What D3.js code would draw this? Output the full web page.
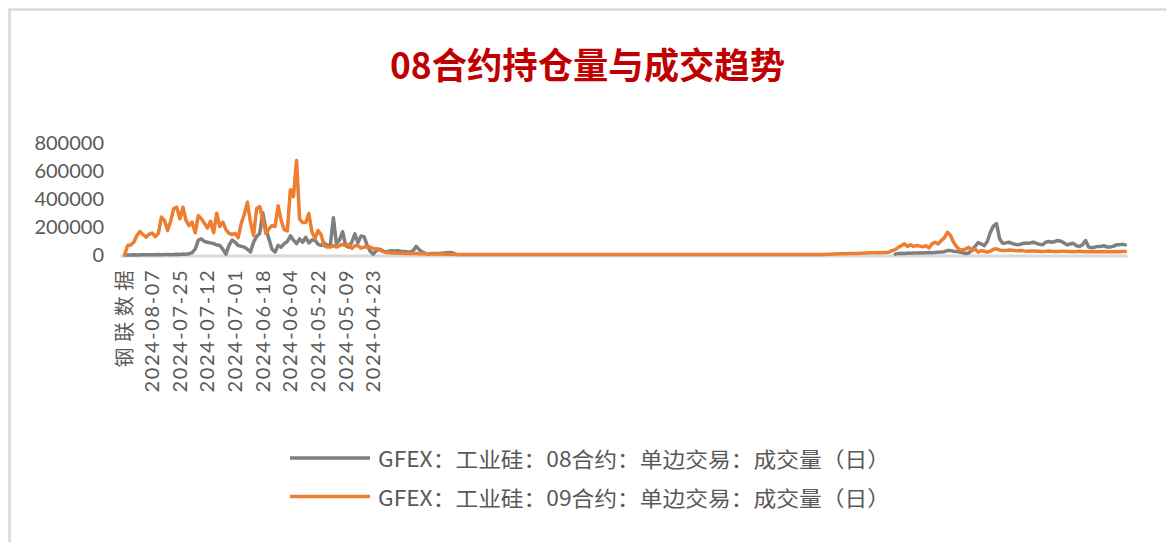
<!DOCTYPE html>
<html><head><meta charset="utf-8">
<script src="https://cdn.jsdelivr.net/npm/d3@7/dist/d3.min.js"></script>
<style>
html,body{margin:0;padding:0;background:#fff;}
svg{display:block;}
</style></head>
<body>
<script>
// ---- data ----
const title = "08合约持仓量与成交趋势";
const tickLabels = ["钢联数据","2024-08-07","2024-07-25","2024-07-12","2024-07-01","2024-06-18","2024-06-04","2024-05-22","2024-05-09","2024-04-23"];
const tickStep = 9;
const yTicks = [0,200000,400000,600000,800000];
const seriesNames = ["GFEX：工业硅：08合约：单边交易：成交量（日）","GFEX：工业硅：09合约：单边交易：成交量（日）"];
const seriesColors = ["#7f7f7f","#ed7d31"];

const gray08 = [null,
3000,4000,3000,5000,4000,5000,6000,5000,6000,5000,
6000,7000,6000,8000,7000,6000,8000,9000,8000,10000,9000,12000,
20000,45000,110000,119000,100000,95000,90000,85000,75000,72000,45000,10000,72000,110000,95000,72000,65000,60000,45000,25000,95000,135000,157000,305000,190000,119000,45000,25000,
72000,60000,85000,100000,140000,110000,85000,119000,95000,130000,
90000,110000,110000,80000,72000,90000,72000,72000,270000,85000,
110000,170000,72000,60000,95000,155000,90000,140000,135000,72000,
30000,10000,35000,45000,35000,25000,30000,35000,30000,35000,
30000,28000,26000,25000,35000,65000,40000,25000,15000,10000,
15000,14000,15000,16000,18000,20000,22000,18000,8000,
null,null,null,null,null,null,null,null,null,null,
null,null,null,null,null,null,null,null,null,null,
null,null,null,null,null,null,null,null,null,null,
null,null,null,null,null,null,null,null,null,null,
null,null,null,null,null,null,null,null,null,null,
null,null,null,null,null,null,null,null,null,null,
null,null,null,null,null,null,null,null,null,null,
null,null,null,null,null,null,null,null,null,null,
null,null,null,null,null,null,null,null,null,null,
null,null,null,null,null,null,null,null,null,null,
null,null,null,null,null,null,null,null,null,null,
null,null,null,null,null,null,null,null,null,null,
null,null,null,null,null,null,null,null,null,null,
null,null,null,null,null,null,null,null,null,null,
null,null,
10000,15000,16000,15000,17000,16000,18000,17000,19000,18000,
20000,21000,20000,22000,24000,25000,27000,35000,35000,30000,
28000,24000,20000,14000,18000,40000,64000,92000,83000,70000,
100000,166000,210000,228000,120000,87000,90000,95000,87000,80000,
76000,82000,87000,87000,90000,95000,87000,80000,76000,95000,
100000,95000,100000,107000,102000,90000,76000,82000,87000,70000,
65000,76000,107000,60000,55000,60000,65000,65000,70000,60000,
60000,65000,76000,76000,80000,76000];

const orange09 = [null,
5000,71000,75000,95000,143000,171000,150000,131000,152000,160000,
135000,160000,274000,250000,178000,245000,335000,345000,262000,345000,
250000,214000,238000,162000,285000,262000,230000,197000,245000,162000,
302000,207000,238000,185000,158000,150000,158000,127000,230000,295000,
381000,238000,143000,335000,350000,262000,158000,190000,214000,207000,
355000,250000,185000,175000,470000,420000,678000,260000,235000,235000,
300000,170000,121000,178000,150000,70000,60000,60000,70000,60000,
70000,80000,70000,80000,50000,70000,70000,52000,60000,62000,
60000,48000,48000,42000,30000,22000,19000,18000,17000,16000,
17000,15000,16000,15000,14000,14000,13000,13000,12000,12000,
12000,11000,11000,10000,10000,9000,9000,9000,8000,
8000,8000,8000,8000,8000,8000,8000,8000,8000,8000,
8000,8000,8000,8000,8000,8000,8000,8000,8000,8000,
8000,8000,8000,8000,8000,8000,8000,8000,8000,8000,
8000,8000,8000,8000,8000,8000,8000,8000,8000,8000,
8000,8000,8000,8000,8000,8000,8000,8000,8000,8000,
8000,8000,8000,8000,8000,8000,8000,8000,8000,8000,
8000,8000,8000,8000,8000,8000,8000,8000,8000,8000,
8000,8000,8000,8000,8000,8000,8000,8000,8000,8000,
8000,8000,8000,8000,8000,8000,8000,8000,8000,8000,
8000,8000,8000,8000,8000,8000,8000,8000,8000,8000,
8000,8000,8000,8000,8000,8000,8000,8000,8000,8000,
8000,8000,8000,8000,8000,8000,8000,8000,8000,8000,
9000,9000,10000,11000,12000,13000,13000,14000,14000,15000,
15000,16000,17000,18000,19000,20000,20000,21000,20000,22000,24000,35000,
42000,58000,70000,83000,65000,76000,65000,72000,67000,62000,
70000,54000,83000,95000,83000,107000,126000,166000,143000,95000,
62000,42000,40000,47000,58000,35000,47000,24000,35000,30000,
24000,30000,45000,48000,39000,35000,35000,39000,38000,35000,
34000,36000,33000,31000,33000,32000,30000,31000,29000,30000,
32000,30000,29000,28000,30000,31000,29000,28000,27000,28000,
30000,29000,27000,26000,27000,28000,26000,27000,28000,27000,
26000,27000,28000,27000,28000,28000];

// ---- drawing ----
const W = 1166, H = 542;
const svg = d3.select("body").append("svg").attr("width", W).attr("height", H);

svg.append("rect").attr("x",9.5).attr("y",9.5).attr("width",1300).attr("height",700)
  .attr("fill","#fff").attr("stroke","#d9d9d9").attr("stroke-width",2.5);

svg.append("text").attr("x",587.5).attr("y",63)
  .attr("text-anchor","middle").attr("dominant-baseline","central")
  .attr("font-family","'Noto Sans CJK SC'").attr("font-weight",700).attr("font-size",36)
  .attr("fill","#c00000").attr("textLength",395).attr("lengthAdjust","spacingAndGlyphs")
  .text(title);

const n = gray08.length;
const x = d3.scaleLinear().domain([-0.5, n - 0.5]).range([120, 1127]);
const y = d3.scaleLinear().domain([0, 800000]).range([255.5, 143.5]);

const textColor = "#595959";

// y axis
const ya = svg.append("g").attr("transform", `translate(120,0)`)
  .call(d3.axisLeft(y).tickValues(yTicks).tickSize(0).tickPadding(16).tickFormat(d3.format("d")));
ya.select(".domain").remove();
ya.selectAll("text").attr("font-family","Lato").attr("font-size",20).attr("fill",textColor);

// x axis
const xa = svg.append("g").attr("transform", `translate(0,${y(0)})`)
  .call(d3.axisBottom(x).tickValues(tickLabels.map((d,i)=>i*tickStep)).tickSize(0).tickSizeOuter(0)
    .tickFormat(v => tickLabels[v / tickStep]));
xa.select(".domain").attr("stroke","#d9d9d9").attr("stroke-width",3);
xa.selectAll("text")
  .attr("transform","rotate(-90)")
  .attr("text-anchor","end")
  .attr("dominant-baseline","central")
  .attr("x",-15).attr("y",1.5).attr("dy",null)
  .attr("font-family", (d,i)=> i===0 ? "'Noto Sans CJK SC'" : "Lato")
  .attr("font-size",20).attr("fill",textColor)
  .attr("textLength",(d,i)=> i===0 ? 97 : 122)
  .attr("lengthAdjust","spacing");

// lines
const line = d3.line().defined(d => d != null).x((d,i)=>x(i)).y(d=>y(d));
[gray08, orange09].forEach((s,k)=>{
  svg.append("path").datum(s).attr("fill","none")
    .attr("stroke",seriesColors[k]).attr("stroke-width",3.5)
    .attr("stroke-linejoin","round").attr("stroke-linecap","round")
    .attr("d", line);
});

// legend
const lg = svg.append("g");
seriesNames.forEach((name,k)=>{
  const yy = 458 + k*38.5;
  lg.append("line").attr("x1",290).attr("x2",370).attr("y1",yy).attr("y2",yy)
    .attr("stroke",seriesColors[k]).attr("stroke-width",3.5);
  lg.append("text").attr("x",378).attr("y",yy).attr("dominant-baseline","central")
    .attr("font-family","'Noto Sans CJK SC'").attr("font-size",21).attr("fill",textColor)
    .attr("textLength",512).attr("lengthAdjust","spacingAndGlyphs")
    .text(name);
});
</script>
</body></html>
